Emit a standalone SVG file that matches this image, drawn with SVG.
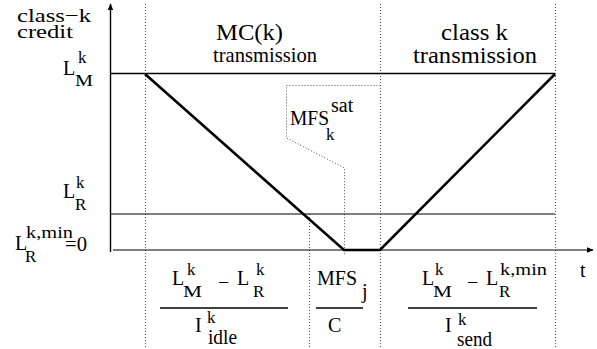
<svg xmlns="http://www.w3.org/2000/svg" width="597" height="349" viewBox="0 0 597 349">
<defs>
<style>
text{font-family:"Liberation Serif","Times New Roman",serif;fill:#000}
.m{font-size:20px}
.s{font-size:17px}
.big{font-size:23px}
.mid{font-size:21px}
.dot{fill:none;stroke:#555;stroke-width:1;stroke-dasharray:1 2}
.thin{fill:none;stroke:#000;stroke-width:1}
.bar{stroke:#000;stroke-width:1.3}
</style>
<marker id="ah" viewBox="0 0 10 10" refX="9" refY="5" markerWidth="7" markerHeight="7" markerUnits="userSpaceOnUse" orient="auto">
<path d="M0,1 L10,5 L0,9 z" fill="#000"/>
</marker>
</defs>
<rect width="597" height="349" fill="#fff"/>
<g id="grid">
<line class="dot" x1="145.5" y1="4" x2="145.5" y2="349"/>
<line class="dot" x1="380.5" y1="4" x2="380.5" y2="349"/>
<line class="dot" x1="555.5" y1="4" x2="555.5" y2="349"/>
<line class="dot" x1="309.5" y1="214" x2="309.5" y2="349"/>
<path class="dot" d="M380.5,85.5 H286.5 V138 L344.5,168 V256"/>
</g>
<g id="axes">
<line x1="110.5" y1="252" x2="110.5" y2="4" stroke="#000" stroke-width="1.4" marker-end="url(#ah)"/>
<line x1="113" y1="250" x2="593" y2="250" class="thin" marker-end="url(#ah)"/>
<line x1="110" y1="73.5" x2="555" y2="73.5" stroke="#000" stroke-width="1.3"/>
<line x1="110" y1="214" x2="555" y2="214" class="thin"/>
</g>
<g id="credit-curve">
<path d="M145,74 L344,250 H380 L555,74" fill="none" stroke="#000" stroke-width="2.6" stroke-linejoin="miter"/>
</g>
<g id="axis-labels">
<text font-size="19" x="17" y="22" textLength="74" lengthAdjust="spacingAndGlyphs">class−k</text>
<text font-size="19" x="17" y="38" textLength="56" lengthAdjust="spacingAndGlyphs">credit</text>
<text class="m" x="580" y="277">t</text>
</g>
<g id="label-LM">
<text class="m" x="63" y="75">L</text>
<text class="s" x="78" y="63">k</text>
<text class="s" x="75" y="86" textLength="18" lengthAdjust="spacingAndGlyphs">M</text>
</g>
<g id="label-LR">
<text class="m" x="63" y="198">L</text>
<text class="s" x="76" y="188">k</text>
<text class="s" x="75" y="210">R</text>
</g>
<g id="label-LRmin">
<text class="m" x="15" y="250">L</text>
<text class="s" x="26" y="238" textLength="47" lengthAdjust="spacingAndGlyphs">k,min</text>
<text class="s" x="25" y="262">R</text>
<text class="m" x="65" y="251" textLength="22" lengthAdjust="spacingAndGlyphs">=0</text>
</g>
<g id="phase-mc">
<text class="big" x="216" y="40" textLength="67" lengthAdjust="spacingAndGlyphs">MC(k)</text>
<text class="mid" x="213" y="62" textLength="104" lengthAdjust="spacingAndGlyphs">transmission</text>
</g>
<g id="phase-class">
<text class="big" x="441" y="40" textLength="67" lengthAdjust="spacingAndGlyphs">class k</text>
<text class="big" x="413" y="63" textLength="124" lengthAdjust="spacingAndGlyphs">transmission</text>
</g>
<g id="label-mfs-sat">
<text class="m" x="290" y="125" textLength="39" lengthAdjust="spacingAndGlyphs">MFS</text>
<text class="m" x="331" y="112">sat</text>
<text class="s" x="326" y="140">k</text>
</g>
<g id="frac-idle">
<text class="m" x="172" y="285">L</text>
<text class="s" x="187" y="275">k</text>
<text class="s" x="183" y="297" textLength="19" lengthAdjust="spacingAndGlyphs">M</text>
<text class="m" x="218" y="289">−</text>
<text class="m" x="237" y="285">L</text>
<text class="s" x="256" y="275">k</text>
<text class="s" x="253" y="297">R</text>
<line class="bar" x1="160" y1="308" x2="288" y2="308"/>
<text class="m" x="195" y="332">I</text>
<text class="s" x="207" y="323">k</text>
<text class="m" x="208" y="344" textLength="29" lengthAdjust="spacingAndGlyphs">idle</text>
</g>
<g id="frac-mfs">
<text class="m" x="317" y="285" textLength="40" lengthAdjust="spacingAndGlyphs">MFS</text>
<text class="m" x="362" y="298">j</text>
<line class="bar" x1="316" y1="308" x2="363" y2="308"/>
<text class="m" x="328" y="332">C</text>
</g>
<g id="frac-send">
<text class="m" x="422" y="285">L</text>
<text class="s" x="435" y="275">k</text>
<text class="s" x="433" y="297" textLength="19" lengthAdjust="spacingAndGlyphs">M</text>
<text class="m" x="467" y="289">−</text>
<text class="m" x="486" y="285">L</text>
<text class="s" x="500" y="275" textLength="47" lengthAdjust="spacingAndGlyphs">k,min</text>
<text class="s" x="499" y="297">R</text>
<line class="bar" x1="408" y1="308" x2="537" y2="308"/>
<text class="m" x="445" y="332">I</text>
<text class="s" x="458" y="325">k</text>
<text class="m" x="457" y="346" textLength="35" lengthAdjust="spacingAndGlyphs">send</text>
</g>
</svg>
